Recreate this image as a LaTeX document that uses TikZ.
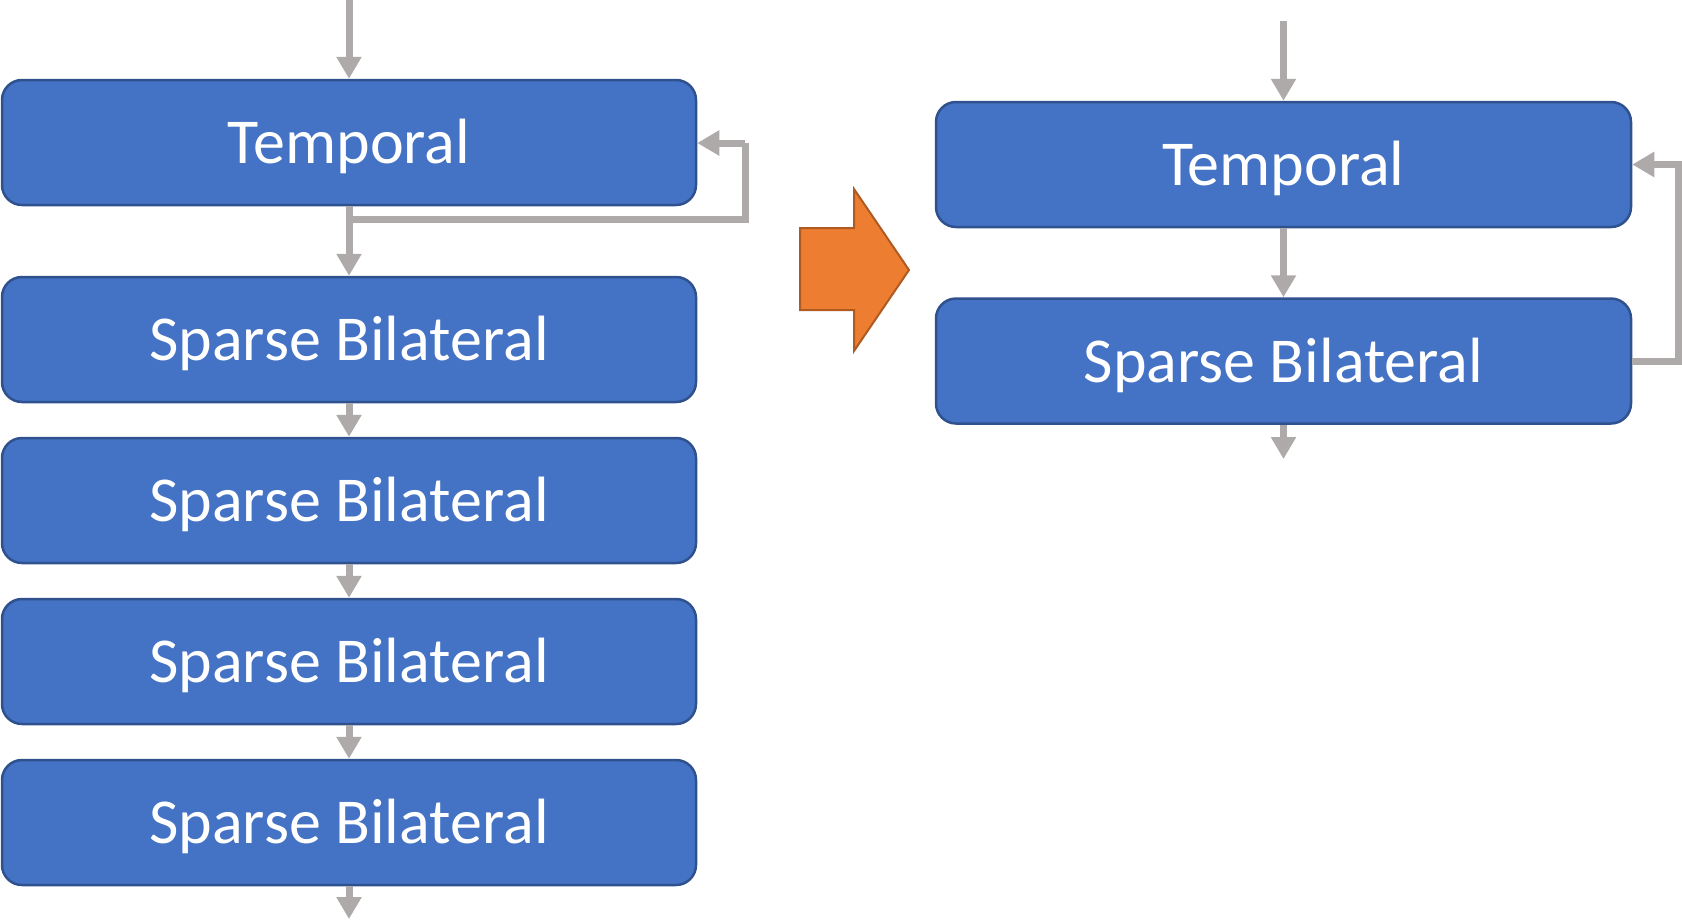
\documentclass[tikz,border=0pt]{standalone}
\usepackage{fontspec}
\setmainfont{Carlito}
\usetikzlibrary{arrows.meta}
\definecolor{boxfill}{HTML}{4472C4}
\definecolor{boxline}{HTML}{2F528F}
\definecolor{conngray}{HTML}{AEAAAA}
\definecolor{orfill}{HTML}{ED7D31}
\definecolor{orline}{HTML}{AE5A21}
\begin{document}
\begin{tikzpicture}[x=1pt,y=-1pt,
  blockbox/.style={draw=boxline, fill=boxfill, line width=2.5pt, rounded corners=20pt,
    minimum width=694pt, minimum height=125pt, inner sep=0pt, text=white,
    font=\fontsize{64}{70}\selectfont, text height=42pt, text depth=0pt},
  conn/.style={draw=conngray, line width=7pt, -{Triangle[width=24pt,length=22pt]}},
  connplain/.style={draw=conngray, line width=7pt}]
\useasboundingbox (0,0) rectangle (1682,919);
% left column
\node[blockbox] (T) at (349,142.5) {Temporal};
\node[blockbox] (S1) at (349,339.5) {Sparse Bilateral};
\node[blockbox] (S2) at (349,500.5) {Sparse Bilateral};
\node[blockbox] (S3) at (349,661.5) {Sparse Bilateral};
\node[blockbox] (S4) at (349,822.5) {Sparse Bilateral};
\coordinate (inL) at (349,0);
\coordinate (outL) at (349,919);
\coordinate (fbL) at (745,143);
\coordinate (fbLb) at (349,219);
\draw[conn] (inL) -- (T.north);
\draw[conn] (T.south) -- (S1.north);
\draw[connplain] (fbLb) -- (fbLb -| fbL) -- (fbL);
\draw[conn] (fbL) -- (fbL -| T.east);
\draw[conn] (S1.south) -- (S2.north);
\draw[conn] (S2.south) -- (S3.north);
\draw[conn] (S3.south) -- (S4.north);
\draw[conn] (S4.south) -- (outL);
% orange arrow
\draw[fill=orfill, draw=orline, line width=2pt, line join=miter]
  (800,228) -- (854,228) -- (854,189) -- (909,270) -- (854,351) -- (854,310) -- (800,310) -- cycle;
% right column
\node[blockbox, minimum width=695pt] (RT) at (1283.5,164.5) {Temporal};
\node[blockbox, minimum width=695pt] (RS) at (1283.5,361) {Sparse Bilateral};
\coordinate (inR) at (1283.5,21);
\coordinate (outR) at (1283.5,459);
\coordinate (fbR) at (1678,361);
\draw[conn] (inR) -- (RT.north);
\draw[conn] (RT.south) -- (RS.north);
\draw[conn] (RS.south) -- (outR);
\draw[conn] (RS.east) -- (fbR) |- (RT.east);
\end{tikzpicture}
\end{document}
